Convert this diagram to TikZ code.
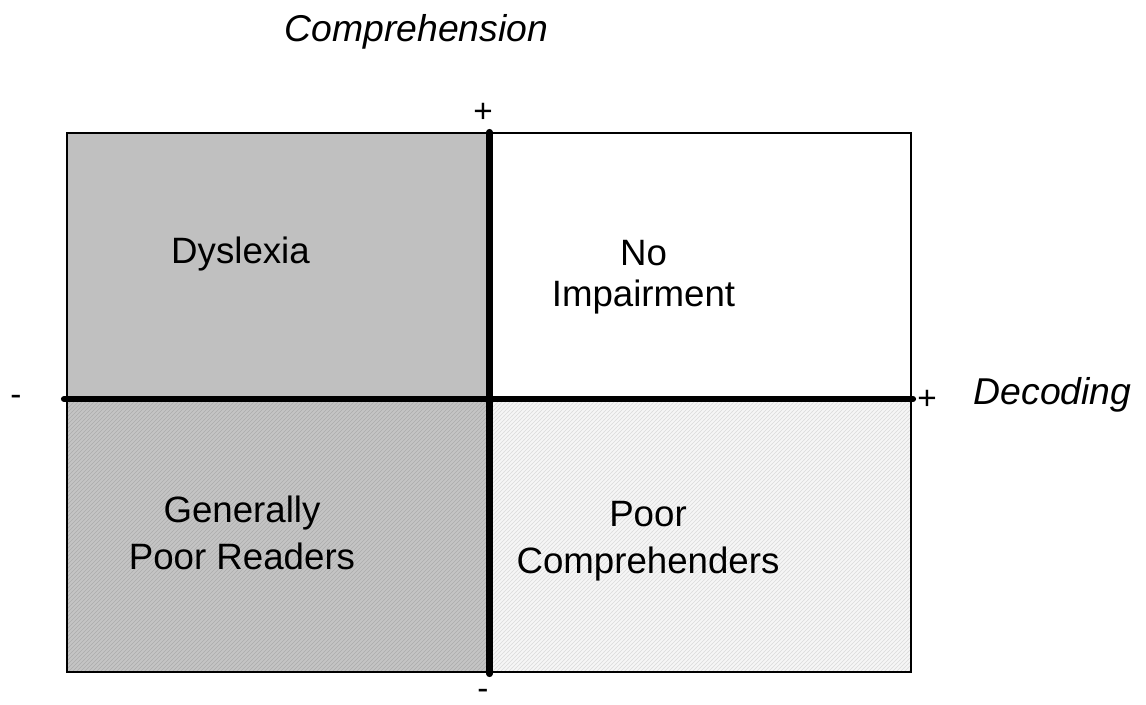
\documentclass[tikz,border=0pt]{standalone}
\usepackage{fontspec}
\setmainfont{Liberation Sans}
\usetikzlibrary{patterns}
\definecolor{qtl}{HTML}{C0C0C0}
\definecolor{qbl}{HTML}{C4C4C4}
\definecolor{qblp}{HTML}{ACACAC}
\definecolor{qbr}{HTML}{F6F6F6}
\definecolor{qbrp}{HTML}{DADADA}
\begin{document}
\begin{tikzpicture}[x=0.75pt,y=-0.75pt,
  lbl/.style={inner sep=0pt,align=center,font=\fontsize{27.5}{35.25}\selectfont},
  lbltight/.style={inner sep=0pt,align=center,font=\fontsize{27.5}{30.75}\selectfont},
  axlbl/.style={inner sep=0pt,font=\fontsize{28}{34}\selectfont\itshape},
  sign/.style={inner sep=0pt,font=\fontsize{25}{28}\selectfont},
  axis/.style={line width=4.6pt,line cap=round},
  frame/.style={draw=black,line width=0.9pt}]
\useasboundingbox (0,0) rectangle (1146,704);
% quadrants
\fill[qtl] (67,133) rectangle (489.5,399);
\fill[qbl] (67,399) rectangle (489.5,672);
\fill[pattern=north east lines,pattern color=qblp] (67,399) rectangle (489.5,672);
\fill[qbr] (489.5,399) rectangle (911,672);
\fill[pattern=north east lines,pattern color=qbrp] (489.5,399) rectangle (911,672);
\draw[frame] (67,133) rectangle (911,672);
% axes
\coordinate (vtop) at (489.5,132);
\coordinate (vbot) at (489.5,674);
\coordinate (hl) at (64,399);
\coordinate (hr) at (913,399);
\draw[axis] (vtop) -- (vbot);
\draw[axis] (hl) -- (hr);
% labels
\node[axlbl] (comp) at (416.5,32) {Comprehension};
\node[axlbl] (dec) at (1052.5,395) {Decoding};
\node[sign] (ptop) at (483,113) {+};
\node[sign] (mbot) at (483,694) {-};
\node[sign] (mleft) at (16,400) {-};
\node[sign] (pright) at (927,400) {+};
\node[lbl] (dys) at (240.5,254) {Dyslexia};
\node[lbltight] (noimp) at (643.5,277) {No\\Impairment};
\node[lbl] (gpr) at (242,532.5) {Generally\\Poor Readers};
\node[lbl] (pc) at (648,541) {Poor\\Comprehenders};
\end{tikzpicture}
\end{document}
